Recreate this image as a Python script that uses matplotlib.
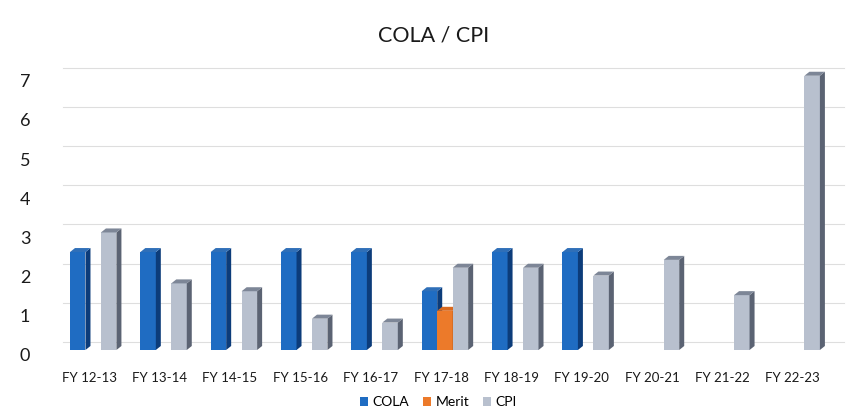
import matplotlib.pyplot as plt
import matplotlib.transforms as mtransforms
from matplotlib.patches import Polygon
import numpy as np

plt.rcParams['font.family'] = ['Lato', 'DejaVu Sans']

# Dados do gráfico
anos = ['FY 12-13', 'FY 13-14', 'FY 14-15', 'FY 15-16', 'FY 16-17', 'FY 17-18',
        'FY 18-19', 'FY 19-20', 'FY 20-21', 'FY 21-22', 'FY 22-23']
cola = [2.5, 2.5, 2.5, 2.5, 2.5, 1.5, 2.5, 2.5, 0, 0, 0]
merit = [0, 0, 0, 0, 0, 1.0, 0, 0, 0, 0, 0]
cpi = [3.0, 1.7, 1.5, 0.8, 0.7, 2.1, 2.1, 1.9, 2.3, 1.4, 7.0]

# Cores: frente, lateral, topo
cores = {
    'COLA': ('#1f6cc2', '#0c3c7a', '#2f6fb8'),
    'Merit': ('#ec7a2a', '#a9561a', '#d96a20'),
    'CPI': ('#b8c0ce', '#5b6373', '#7d8697'),
}

fig = plt.figure(figsize=(8.56, 4.18), dpi=100)
ax = fig.add_axes([0.0678, 0.1627, 0.904, 0.6842])
ax.set_xlim(-0.5, 10.5)
ax.set_ylim(0, 7.3)

# profundidade do efeito 3D em pixels convertida para unidades de dados
px_x = 0.904 * 856 / 11
px_y = 0.6842 * 418 / 7.3
dx = 5 / px_x
dy = 4 / px_y

x = np.arange(len(anos))
largura = 0.22
series = [('COLA', cola, -largura), ('Merit', merit, 0.0), ('CPI', cpi, largura)]

z = 3
handles = []
for nome, valores, desloc in series:
    frente, lado, topo = cores[nome]
    h = ax.bar(x + desloc, valores, largura, color=frente, label=nome, zorder=z)
    handles.append(h)
    for xi, v in zip(x + desloc, valores):
        if v <= 0:
            continue
        x0 = xi - largura / 2
        x1 = xi + largura / 2
        ax.add_patch(Polygon([(x1, 0), (x1 + dx, dy), (x1 + dx, v + dy), (x1, v)],
                             closed=True, facecolor=lado, edgecolor='none', zorder=z))
        ax.add_patch(Polygon([(x0, v), (x0 + dx, v + dy), (x1 + dx, v + dy), (x1, v)],
                             closed=True, facecolor=topo, edgecolor='none', zorder=z))
    z += 1

# Linhas de grade na parede do fundo (deslocadas)
fundo = mtransforms.offset_copy(ax.transData, fig=fig, x=5, y=8, units='dots')
for g in range(0, 8):
    ax.plot([-0.5, 10.6], [g, g], color='#dedede', lw=0.8, transform=fundo,
            zorder=1, clip_on=False)

for s in ax.spines.values():
    s.set_visible(False)

ax.set_yticks(range(0, 8))
ax.tick_params(axis='y', length=0, pad=20, labelsize=13, labelcolor='#1a1a1a')
ax.set_xticks(x)
ax.set_xticklabels(anos)
ax.tick_params(axis='x', length=0, pad=16, labelsize=9.5, labelcolor='#1a1a1a')

desc_y = mtransforms.ScaledTranslation(0, -5 / 100, fig.dpi_scale_trans)
for lbl in ax.get_yticklabels():
    lbl.set_transform(lbl.get_transform() + desc_y)
desc_x = mtransforms.ScaledTranslation(-4 / 100, 0, fig.dpi_scale_trans)
for lbl in ax.get_xticklabels():
    lbl.set_transform(lbl.get_transform() + desc_x)

fig.text(0.507, 0.916, 'COLA / CPI', ha='center', va='center', fontsize=15.5, color='#1a1a1a')

fig.legend(handles=handles, labels=['COLA', 'Merit', 'CPI'], loc='center',
           bbox_to_anchor=(0.512, 0.038), ncol=3, frameon=False, fontsize=10,
           handlelength=0.6, handleheight=0.6, handletextpad=0.3, columnspacing=1.0)

fig.savefig('out.png', dpi=100)
